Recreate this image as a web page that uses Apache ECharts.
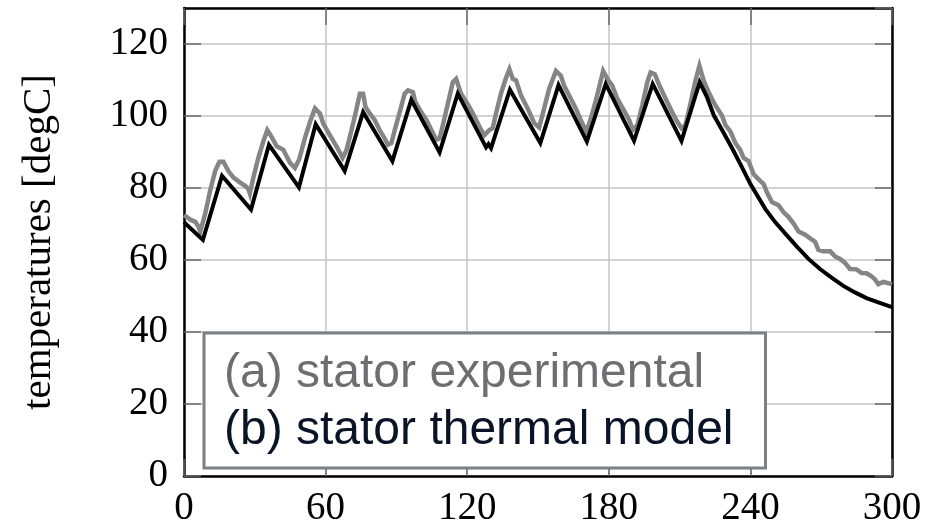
<!DOCTYPE html>
<html>
<head>
<meta charset="utf-8">
<script src="https://cdn.jsdelivr.net/npm/echarts@6/dist/echarts.min.js"></script>
<style>
  html, body { margin: 0; padding: 0; background: #fff; }
  #chart { width: 933px; height: 528px; }
</style>
</head>
<body>
<div id="chart"></div>
<script>
// axis ticks
var xTicks = [0, 60, 120, 180, 240, 300];
var yTicks = [0, 20, 40, 60, 80, 100, 120];

var nameExp = '(a) stator experimental';
var nameModel = '(b) stator thermal model';

var expTime = [0, 2.7, 4.8, 6.2, 6.9, 9.0, 11.1, 13.2, 15.0, 16.7, 18.8, 21.0, 23.8, 25.9, 27.3, 27.9,
  29.4, 31.5, 33.6, 35.3, 36.7, 39.3, 42.1, 44.9, 47.0, 48.8, 51.2, 53.4, 55.5, 57.6, 59.0,
  61.8, 64.6, 67.2, 68.9, 71.0, 72.8, 74.5, 75.9, 76.9, 78.7, 80.8, 82.9, 85.0, 86.4, 87.9,
  89.3, 91.4, 93.5, 94.9, 97.0, 98.0, 100.5, 102.7, 104.8, 106.9, 108.3, 109.7, 111.8, 113.9,
  115.3, 117.4, 119.6, 121.7, 123.8, 125.9, 127.3, 129.4, 130.8, 132.2, 134.3, 136.5, 137.9,
  139.3, 140.7, 142.8, 145.6, 148.4, 150.5, 152.6, 154.7, 157.6, 159.7, 161.1, 163.2, 166.0,
  168.8, 170.5, 172.4, 174.5, 176.6, 177.6, 179.4, 181.5, 183.6, 186.4, 188.6, 190.2, 192.1,
  194.2, 196.3, 197.7, 199.5, 201.5, 204.1, 206.8, 209.0, 210.8, 212.5, 214.6, 216.7, 218.4,
  220.2, 222.3, 225.1, 227.9, 229.4, 231.5, 233.6, 235.7, 237.1, 239.2, 241.4, 243.5, 245.6,
  247.0, 249.1, 251.9, 254.0, 256.1, 258.3, 260.4, 263.2, 265.3, 267.4, 268.8, 270.9, 273.8,
  275.9, 278.0, 280.1, 282.2, 285.0, 287.1, 289.2, 291.3, 292.8, 294.2, 296.3, 300];
var expTemp = [72.5, 71.2, 70.6, 69.2, 67.9, 72.9, 79.3, 84.7, 87.3, 87.3, 84.7, 82.9, 81.5, 80.6, 79.7, 78.5,
  82.9, 88.4, 92.9, 96.1, 94.7, 91.6, 90.6, 87.0, 85.6, 87.9, 93.8, 98.4, 102.1, 100.7, 97.9,
  94.7, 91.6, 88.4, 90.6, 96.1, 101.1, 106.2, 106.2, 102.5, 100.7, 98.9, 96.1, 93.8, 92.0, 92.5,
  96.1, 101.1, 106.2, 107.1, 106.6, 103.9, 101.1, 98.9, 96.1, 93.4, 93.8, 97.5, 103.4, 109.4,
  110.3, 106.2, 103.9, 101.6, 98.9, 96.1, 94.7, 96.1, 96.6, 100.7, 106.2, 110.7, 113.0,
  110.3, 109.9, 105.7, 102.1, 98.0, 96.8, 102.1, 107.5, 112.5, 111.2, 108.4, 105.7, 102.1,
  97.9, 95.7, 99.3, 104.3, 109.8, 112.5, 110.3, 108.4, 104.8, 101.6, 98.9, 96.1, 97.5,
  103.0, 109.4, 112.1, 111.6, 108.4, 104.8, 101.1, 98.4, 96.6, 97.5, 103.4, 109.8, 113.9,
  109.8, 106.6, 103.0, 100.2, 97.5, 95.7, 92.5, 90.6, 88.4, 87.5, 83.8, 82.4, 81.1,
  78.8, 76.1, 75.2, 73.3, 72.0, 70.1, 67.9, 67.0, 66.0, 65.1, 62.8, 62.4, 62.4,
  61.0, 60.3, 59.2, 57.5, 57.4, 56.4, 56.3, 55.5, 54.6, 53.3, 53.9, 53.3];

// (b) thermal model output
var modelTime = [0, 8.0, 16.1, 28.4, 36.0, 48.7, 55.8, 68.1, 75.9, 88.3, 96.3, 108.3, 116.0, 128.0, 129.0, 130.1,
  138.1, 151.0, 158.7, 170.7, 178.7, 190.7, 198.6, 210.8, 218.5, 221.5, 224.5, 228.0, 232.2, 236.4,
  240.0, 246.3, 250.4, 254.7, 259.7, 264.6, 269.5, 274.4, 279.4, 284.3, 289.2, 294.2, 300];
var modelTemp = [70.5, 65.6, 83.4, 74.0, 92.0, 80.2, 97.7, 84.7, 101.1, 87.5, 104.5, 89.9, 106.2, 91.3, 92.2, 91.1,
  107.3, 92.5, 108.6, 92.9, 108.9, 93.1, 108.9, 93.1, 109.4, 105.4, 100.2, 96.1, 91.1, 85.8,
  81.1, 74.2, 70.6, 67.4, 63.7, 60.3, 57.5, 55.1, 52.8, 51.0, 49.4, 48.2, 46.9];

function zip(xs, ys) {
  var out = [];
  for (var i = 0; i < xs.length; i++) out.push([xs[i], ys[i]]);
  return out;
}

var chart = echarts.init(document.getElementById('chart'));

var serifFont = "'Liberation Serif', 'DejaVu Serif', serif";

function ticks() {
  return { show: true, inside: true, length: 17, lineStyle: { color: '#6a6a6a', width: 1.5 } };
}
function frameLine() {
  return { show: true, onZero: false, lineStyle: { color: '#000', width: 2.5 } };
}

var option = {
  animation: false,
  grid: { left: 184, right: 41, top: 8, bottom: 47 },
  legend: {
    orient: 'vertical',
    left: 204, top: 333,
    icon: 'none',
    itemWidth: 1, itemHeight: 1, itemGap: 0,
    selectedMode: false,
    padding: [12, 32, 9, 14],
    backgroundColor: '#fff',
    borderColor: '#7b8086', borderWidth: 3,
    textStyle: { fontFamily: "'Liberation Sans', Arial, sans-serif", fontSize: 48, lineHeight: 57 },
    data: [
      { name: nameExp, textStyle: { color: '#6e6e72' } },
      { name: nameModel, textStyle: { color: '#0b1326' } }
    ]
  },
  xAxis: [{
    type: 'value', min: xTicks[0], max: xTicks[xTicks.length - 1], interval: xTicks[1] - xTicks[0],
    axisLine: frameLine(),
    axisTick: ticks(),
    splitLine: { show: true, lineStyle: { color: '#c4c4c4', width: 1.5 } },
    axisLabel: { color: '#000', fontFamily: serifFont, fontSize: 39, margin: 13 }
  }, {
    type: 'value', position: 'top', min: xTicks[0], max: xTicks[xTicks.length - 1], interval: xTicks[1] - xTicks[0],
    axisLine: frameLine(), axisTick: ticks(), axisLabel: { show: false }, splitLine: { show: false }
  }],
  yAxis: [{
    type: 'value', min: yTicks[0], max: 130, interval: yTicks[1] - yTicks[0],
    name: 'temperatures [degC]',
    nameLocation: 'middle', nameRotate: 90, nameGap: 124,
    nameTextStyle: { color: '#000', fontFamily: serifFont, fontSize: 41 },
    axisLine: frameLine(),
    axisTick: ticks(),
    splitLine: { show: true, lineStyle: { color: '#c4c4c4', width: 1.5 } },
    axisLabel: { color: '#000', fontFamily: serifFont, fontSize: 39, margin: 16, showMaxLabel: false }
  }, {
    type: 'value', position: 'right', min: yTicks[0], max: 130, interval: yTicks[1] - yTicks[0],
    axisLine: frameLine(), axisTick: ticks(), axisLabel: { show: false }, splitLine: { show: false }
  }],
  series: [
    {
      name: nameExp, type: 'line', symbol: 'none', xAxisIndex: 0, yAxisIndex: 0,
      lineStyle: { color: '#858585', width: 4.5, join: 'miter' },
      itemStyle: { color: '#858585' },
      data: zip(expTime, expTemp)
    },
    {
      name: nameModel, type: 'line', symbol: 'none', xAxisIndex: 0, yAxisIndex: 0,
      lineStyle: { color: '#000', width: 4, join: 'miter' },
      itemStyle: { color: '#000' },
      data: zip(modelTime, modelTemp)
    }
  ]
};
chart.setOption(option);
</script>
</body>
</html>
